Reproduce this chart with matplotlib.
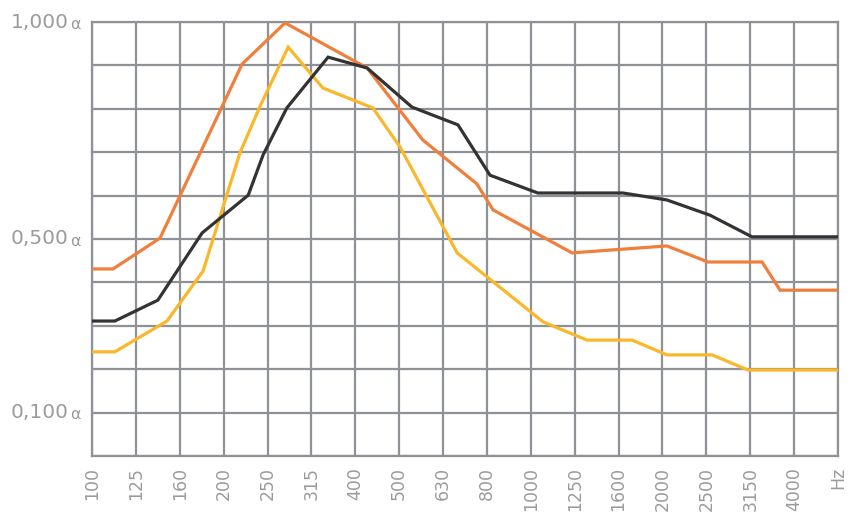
import matplotlib.pyplot as plt
import numpy as np

# third-octave band labels along the bottom
bands = ["100", "125", "160", "200", "250", "315", "400", "500", "630",
         "800", "1000", "1250", "1600", "2000", "2500", "3150", "4000"]

# curves: position in band steps, absorption coefficient
orange_x = [0, 0.48, 1.55, 3.42, 4.40, 6.27, 7.54, 8.77, 9.14, 10.94,
            13.10, 14.04, 15.27, 15.68, 17.0]
orange_y = [0.431, 0.431, 0.502, 0.903, 0.998, 0.894, 0.728, 0.627, 0.567,
            0.468, 0.484, 0.447, 0.447, 0.382, 0.382]

black_x = [0, 0.52, 1.50, 2.51, 3.56, 3.90, 4.44, 5.38, 6.27, 7.29, 8.34,
           9.07, 10.16, 12.10, 13.10, 14.08, 15.04, 17.0]
black_y = [0.311, 0.311, 0.359, 0.514, 0.601, 0.694, 0.802, 0.919, 0.894,
           0.804, 0.763, 0.647, 0.606, 0.606, 0.590, 0.555, 0.505, 0.505]

yellow_x = [0, 0.52, 1.71, 2.53, 3.37, 3.83, 4.47, 5.26, 6.40, 7.02, 8.32,
            10.28, 11.28, 12.31, 13.10, 14.13, 14.95, 17.0]
yellow_y = [0.240, 0.240, 0.311, 0.426, 0.698, 0.806, 0.942, 0.848, 0.802,
            0.712, 0.468, 0.309, 0.267, 0.267, 0.233, 0.233, 0.198, 0.198]

y_labels = {0.1: "0,100", 0.5: "0,500", 1.0: "1,000"}

grid_col = "#8e9196"
text_col = "#9b9b9b"

fig = plt.figure(figsize=(8.49, 5.2), dpi=100)
ax = fig.add_axes([92 / 849, 1 - 456 / 520, 746 / 849, 434 / 520])

ax.plot(yellow_x, yellow_y, color="#fbb72a", lw=2.3, solid_joinstyle="miter", zorder=3)
ax.plot(orange_x, orange_y, color="#f07f3c", lw=2.3, solid_joinstyle="miter", zorder=4)
ax.plot(black_x, black_y, color="#333333", lw=2.3, solid_joinstyle="miter", zorder=5)

ax.set_xlim(0, len(bands))
ax.set_ylim(0, 1.0)

ax.set_xticks(range(len(bands) + 1))
ax.set_xticklabels(bands + ["Hz"], rotation=90, va="top", ha="center",
                   fontsize=12.5, color=text_col)
yt = np.round(np.arange(0, 1.01, 0.1), 1)
ax.set_yticks(yt)
ax.set_yticklabels([""] * len(yt))
ax.tick_params(length=0, pad=8)

ax.grid(True, color=grid_col, lw=1.6)
ax.set_axisbelow(True)
for s in ax.spines.values():
    s.set_color(grid_col)
    s.set_linewidth(1.6)

# value labels with a smaller alpha sign on the left
for v, lab in y_labels.items():
    ax.annotate(lab, xy=(0, v), xycoords=("axes fraction", "data"),
                xytext=(-17, 0), textcoords="offset points", ha="right",
                va="center", fontsize=14.5, color=text_col)
    ax.annotate("α", xy=(0, v), xycoords=("axes fraction", "data"),
                xytext=(-8, -1.5), textcoords="offset points", ha="right",
                va="center", fontsize=11.5, color=text_col)

fig.savefig("out.png", dpi=100)
